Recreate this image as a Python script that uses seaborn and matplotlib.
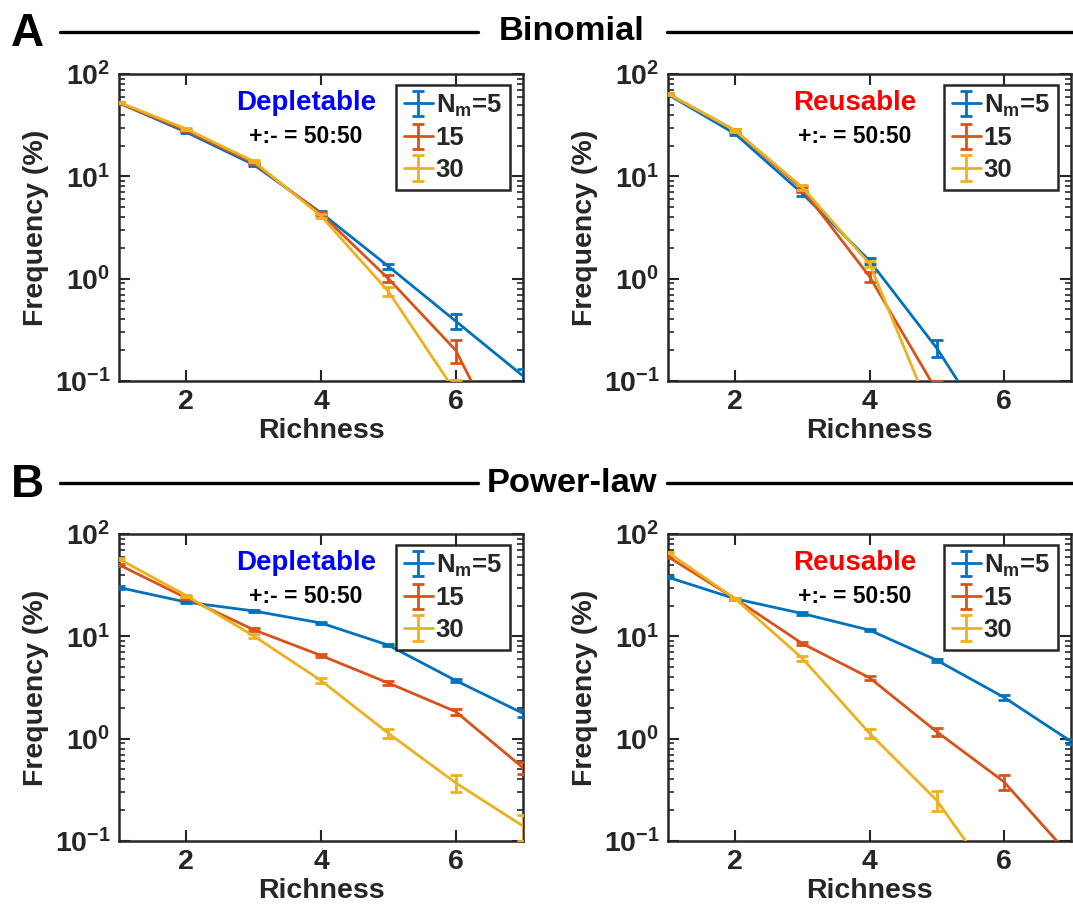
import numpy as np
import pandas as pd
import matplotlib
matplotlib.use("Agg")
import matplotlib.pyplot as plt
import seaborn as sns
from matplotlib.container import ErrorbarContainer
from matplotlib.lines import Line2D
from matplotlib.ticker import LogLocator, NullFormatter, FixedLocator

# ---------------- data ----------------
richness = [1, 2, 3, 4, 5, 6, 7]
series_labels = [r"$\mathregular{N_m}$=5", "15", "30"]
colors = ["#0072BD", "#D95319", "#EDB120"]

# Binomial / Depletable
bin_dep_5 = [52, 27, 13, 4.4, 1.32, 0.385, 0.112]
bin_dep_15 = [52, 28, 13.5, 4.3, 1.0, 0.20, 0.01]
bin_dep_30 = [53, 29, 14, 4.1, 0.75, 0.078, 0.005]
bin_dep_5_err = [0.8, 0.5, 0.3, 0.15, 0.08, 0.065, 0.02]
bin_dep_15_err = [0.8, 0.5, 0.3, 0.15, 0.08, 0.05, 0.003]
bin_dep_30_err = [0.8, 0.5, 0.3, 0.15, 0.08, 0.025, 0.002]

# Binomial / Reusable
bin_reu_5 = [63, 26, 6.8, 1.5, 0.21, 0.02, 0.002]
bin_reu_15 = [64, 28, 7.5, 1.05, 0.08, 0.006, 0.0005]
bin_reu_30 = [64, 28, 7.8, 1.4, 0.036, 0.001, 0.0001]
bin_reu_5_err = [1.0, 0.8, 0.4, 0.1, 0.04, 0.005, 0.001]
bin_reu_15_err = [1.0, 0.8, 0.4, 0.12, 0.02, 0.002, 0.0002]
bin_reu_30_err = [1.0, 0.8, 0.4, 0.1, 0.01, 0.0005, 0.00005]

# Power-law / Depletable
pow_dep_5 = [30, 21.6, 17.7, 13.5, 8.2, 3.7, 1.77]
pow_dep_15 = [50, 23.7, 11.6, 6.5, 3.5, 1.84, 0.52]
pow_dep_30 = [57, 25, 10.1, 3.7, 1.13, 0.37, 0.14]
pow_dep_5_err = [0.8, 0.5, 0.4, 0.3, 0.2, 0.15, 0.15]
pow_dep_15_err = [1.0, 0.6, 0.4, 0.25, 0.15, 0.12, 0.07]
pow_dep_30_err = [1.2, 0.6, 0.4, 0.2, 0.12, 0.07, 0.04]

# Power-law / Reusable
pow_reu_5 = [37.8, 23.3, 16.7, 11.5, 5.85, 2.54, 0.94]
pow_reu_15 = [60, 23.3, 8.5, 3.94, 1.17, 0.38, 0.07]
pow_reu_30 = [66, 23.3, 6.1, 1.13, 0.25, 0.03, 0.003]
pow_reu_5_err = [0.8, 0.5, 0.4, 0.3, 0.2, 0.15, 0.05]
pow_reu_15_err = [1.2, 0.5, 0.3, 0.2, 0.1, 0.065, 0.01]
pow_reu_30_err = [1.2, 0.5, 0.3, 0.12, 0.055, 0.01, 0.001]

panels = [
    ("Depletable", "#0000FF", [bin_dep_5, bin_dep_15, bin_dep_30], [bin_dep_5_err, bin_dep_15_err, bin_dep_30_err]),
    ("Reusable", "#FF0000", [bin_reu_5, bin_reu_15, bin_reu_30], [bin_reu_5_err, bin_reu_15_err, bin_reu_30_err]),
    ("Depletable", "#0000FF", [pow_dep_5, pow_dep_15, pow_dep_30], [pow_dep_5_err, pow_dep_15_err, pow_dep_30_err]),
    ("Reusable", "#FF0000", [pow_reu_5, pow_reu_15, pow_reu_30], [pow_reu_5_err, pow_reu_15_err, pow_reu_30_err]),
]
section_titles = ["Binomial", "Power-law"]
section_letters = ["A", "B"]

# ---------------- style ----------------
sns.set_theme(style="ticks")
plt.rcParams["font.family"] = ["Liberation Sans", "DejaVu Sans"]
plt.rcParams["font.weight"] = "bold"
plt.rcParams["axes.labelweight"] = "bold"
plt.rcParams["axes.unicode_minus"] = False
plt.rcParams["mathtext.fontset"] = "custom"
plt.rcParams["mathtext.rm"] = "Liberation Sans:bold"
plt.rcParams["mathtext.it"] = "Liberation Sans:bold"
plt.rcParams["mathtext.bf"] = "Liberation Sans:bold"
plt.rcParams["mathtext.default"] = "rm"

fig = plt.figure(figsize=(10.73, 9.14), dpi=100)
W, H = 1073, 914

axes_px = [
    (119, 74, 523, 381),
    (668, 74, 1071, 381),
    (119, 534, 523, 841),
    (668, 534, 1071, 841),
]

for (title, tcolor, ys, errs), (x0, y0, x1, y1) in zip(panels, axes_px):
    ax = fig.add_axes([x0 / W, 1 - y1 / H, (x1 - x0) / W, (y1 - y0) / H])
    ax.set_yscale("log")
    handles = []
    for lab, col, yv, ev in zip(series_labels, colors, ys, errs):
        df = pd.DataFrame({"Richness": richness, "Frequency": yv})
        sns.lineplot(data=df, x="Richness", y="Frequency", ax=ax, color=col,
                     lw=2, legend=False, zorder=3)
        line = ax.lines[-1]
        eb = ax.errorbar(richness, yv, yerr=ev, fmt="none", ecolor=col,
                         elinewidth=2, capsize=4, capthick=2, zorder=3)
        cont = ErrorbarContainer((line, eb[1], eb[2]), has_xerr=False,
                                 has_yerr=True, label=lab)
        handles.append(cont)
    ax.set_xlim(1, 7)
    ax.set_ylim(0.1, 100)
    ax.xaxis.set_major_locator(FixedLocator([2, 4, 6]))
    ax.yaxis.set_major_locator(LogLocator(base=10, numticks=10))
    ax.yaxis.set_minor_locator(LogLocator(base=10, subs=np.arange(2, 10), numticks=20))
    ax.yaxis.set_minor_formatter(NullFormatter())
    ax.tick_params(axis="both", which="both", direction="in", top=True, right=True,
                   labelsize=20.5, colors="#262626", width=1.5)
    ax.tick_params(axis="both", which="major", length=8, pad=6)
    ax.tick_params(axis="y", which="minor", length=4, width=1.2)
    for s in ax.spines.values():
        s.set_linewidth(1.8)
        s.set_color("#262626")
    ax.set_xlabel("Richness", fontsize=20.5, fontweight="bold", color="#262626", labelpad=2)
    ax.set_ylabel("Frequency (%)", fontsize=20.5, fontweight="bold", color="#262626", labelpad=4)
    ax.text(0.463, 0.905, title, transform=ax.transAxes, ha="center", va="center",
            fontsize=20, fontweight="bold", color=tcolor)
    ax.text(0.463, 0.795, "+:- = 50:50", transform=ax.transAxes, ha="center", va="center",
            fontsize=16.5, fontweight="bold", color="black")
    leg = ax.legend(handles=handles, loc="upper right", bbox_to_anchor=(0.967, 0.965),
                    fontsize=18.5, frameon=True, fancybox=False, handlelength=1.15,
                    handletextpad=0.1, labelspacing=0.3, borderpad=0.3,
                    borderaxespad=0.0)
    leg.get_frame().set_edgecolor("#262626")
    leg.get_frame().set_linewidth(1.8)
    leg.get_frame().set_alpha(1)

# ---------------- section headers ----------------
header_y_px = [32, 483]
title_x_px = [572, 572]
for letter, stitle, ypx, tx in zip(section_letters, section_titles, header_y_px, title_x_px):
    yf = 1 - ypx / H
    fig.text(27.5 / W, yf - 0.002, letter, ha="center", va="center", fontsize=33,
             fontweight="bold", color="black")
    fig.add_artist(Line2D([60 / W, 478 / W], [yf, yf], color="black", lw=2.4))
    fig.add_artist(Line2D([667 / W, 1.0], [yf, yf], color="black", lw=2.4))
    fig.text(tx / W, yf, stitle, ha="center", va="center", fontsize=24.8,
             fontweight="bold", color="black")

fig.savefig("out.png", dpi=100)
